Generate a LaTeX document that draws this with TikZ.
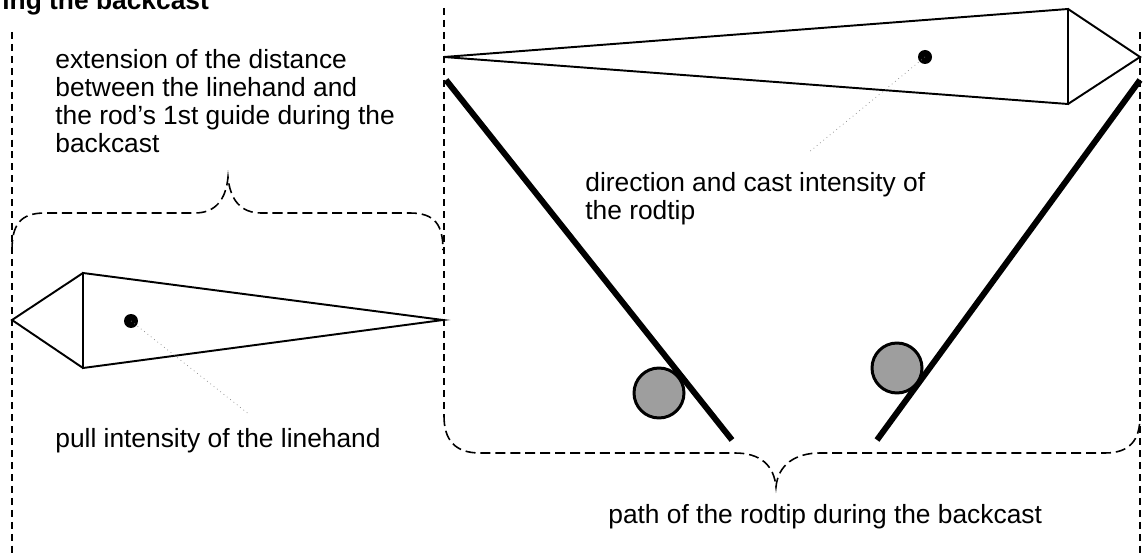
\documentclass[tikz,border=0pt]{standalone}
\usepackage{fontspec}
\setmainfont{Liberation Sans}
\tikzset{
  guide/.style={line width=1.1pt, dash pattern=on 4pt off 2.8pt},
  brace/.style={line width=0.9pt, dash pattern=on 5.7pt off 2.8pt},
  kite/.style={line width=1.1pt, line join=miter},
  rod/.style={line width=3.4pt},
  tipball/.style={circle, draw, line width=1.7pt, fill=black!38, minimum size=1cm, inner sep=0pt},
  dot/.style={circle, fill, minimum size=0.28cm, inner sep=0pt},
  leader/.style={gray, line width=0.4pt, dotted},
  label/.style={inner sep=0pt, align=left, font=\fontsize{15}{15.9}\selectfont}
}
\begin{document}
\begin{tikzpicture}[x=0.02cm, y=-0.02cm]
  \useasboundingbox (0,0) rectangle (1147,557);
  \node[label, anchor=base west, font=\fontsize{15}{15.9}\selectfont\bfseries] (title) at (2,10) {ing the backcast};
  \draw[guide] (12,32)   -- (12,557);
  \draw[guide] (444,8)   -- (444,416);
  \draw[guide] (1140,32) -- (1140,557);
  \draw[brace] (12,250) .. controls (12,225) and (20,213) .. (45,213) -- (195,213)
               .. controls (215,213) and (226,200) .. (228,177)
               .. controls (230,200) and (241,213) .. (261,213) -- (410,213)
               .. controls (435,213) and (443,225) .. (443,250);
  \draw[brace] (444,416) .. controls (444,440) and (455,453) .. (480,453) -- (735,453)
               .. controls (760,453) and (774,465) .. (776,487)
               .. controls (778,465) and (795,453) .. (820,453) -- (1105,453)
               .. controls (1130,453) and (1140,440) .. (1140,416);
  \draw[kite] (444,57) -- (1068,9) -- (1068,104) -- cycle
              (1068,9) -- (1140,57) -- (1068,104);
  \draw[kite] (443,320) -- (83,273) -- (83,368) -- cycle
              (83,273) -- (12,320) -- (83,368);
  \draw[rod] (446,80) -- (732,440);
  \draw[rod] (1140,80) -- (877,440);
  \node[tipball] (balll) at (659,393) {};
  \node[tipball] (ballr) at (897,368) {};
  \node[dot] (castdot) at (925,57) {};
  \node[dot] (pulldot) at (131,321) {};
  \coordinate (castend) at (808,153);
  \coordinate (pullend) at (250,415);
  \draw[leader] (castdot.center) -- (castend);
  \draw[leader] (pulldot.center) -- (pullend);
  \node[label, anchor=north west] (extension) at (55,49)
    {extension of the distance\\between the linehand and\\the rod’s 1st guide during the\\backcast};
  \node[label, anchor=north west] (direction) at (585,172)
    {direction and cast intensity of\\the rodtip};
  \node[label, anchor=base west] (pull) at (55,447) {pull intensity of the linehand};
  \node[label, anchor=base west] (path) at (608,523) {path of the rodtip during the backcast};
\end{tikzpicture}
\end{document}
